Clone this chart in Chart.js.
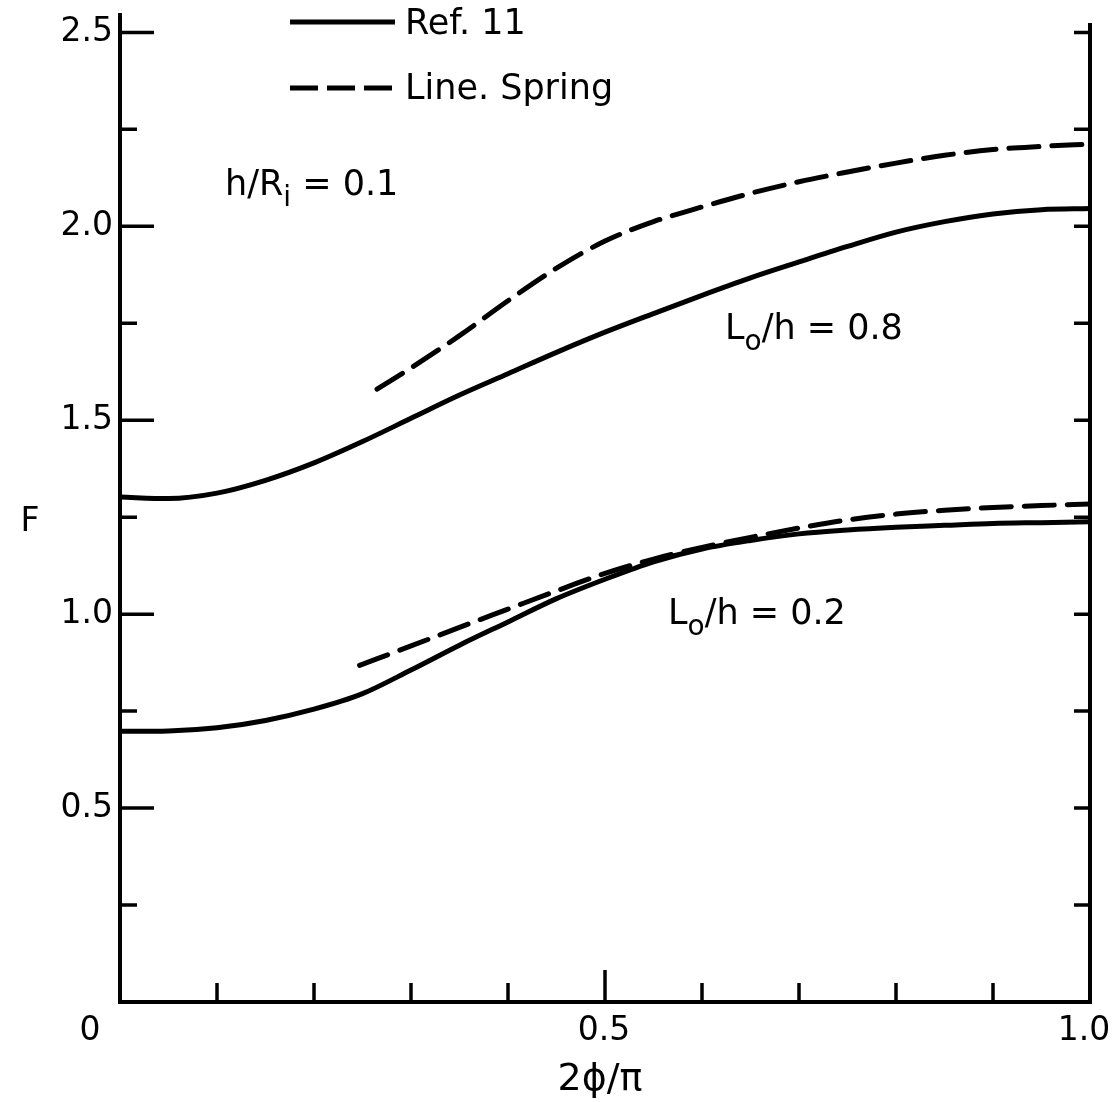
<!DOCTYPE html>
<html>
<head>
<meta charset="utf-8">
<script src="https://cdn.jsdelivr.net/npm/chart.js@4/dist/chart.umd.min.js"></script>
<style>
html,body{margin:0;padding:0;background:#fff;}
#wrap{width:1120px;height:1102px;position:relative;}
</style>
</head>
<body>
<div id="wrap"><canvas id="c"></canvas></div>
<script>
// ---- data ----
const xRef08 = [0, 0.05, 0.1, 0.15, 0.2, 0.25, 0.3, 0.35, 0.4, 0.45, 0.5, 0.55, 0.6, 0.65, 0.7, 0.75, 0.8, 0.85, 0.9, 0.95, 1.0];
const fRef08 = [1.302, 1.298, 1.312, 1.345, 1.39, 1.445, 1.505, 1.565, 1.62, 1.675, 1.727, 1.775, 1.822, 1.867, 1.908, 1.948, 1.985, 2.012, 2.032, 2.043, 2.046];
const xLS08 = [0.265, 0.3, 0.35, 0.4, 0.45, 0.5, 0.55, 0.6, 0.65, 0.7, 0.75, 0.8, 0.85, 0.9, 0.95, 1.0];
const fLS08 = [1.58, 1.635, 1.718, 1.808, 1.892, 1.962, 2.012, 2.05, 2.085, 2.115, 2.14, 2.163, 2.183, 2.198, 2.206, 2.212];
const xRef02 = [0, 0.05, 0.1, 0.15, 0.2, 0.25, 0.3, 0.35, 0.4, 0.45, 0.5, 0.55, 0.6, 0.65, 0.7, 0.75, 0.8, 0.85, 0.9, 0.95, 1.0];
const fRef02 = [0.698, 0.699, 0.707, 0.726, 0.755, 0.795, 0.856, 0.92, 0.98, 1.04, 1.09, 1.135, 1.168, 1.19, 1.207, 1.217, 1.224, 1.229, 1.234, 1.236, 1.238];
const xLS02 = [0.247, 0.3, 0.35, 0.4, 0.45, 0.5, 0.55, 0.6, 0.65, 0.7, 0.75, 0.8, 0.85, 0.9, 0.95, 1.0];
const fLS02 = [0.868, 0.918, 0.966, 1.013, 1.06, 1.105, 1.142, 1.172, 1.198, 1.222, 1.243, 1.258, 1.268, 1.275, 1.28, 1.284];

const xTickLabels = ['0.5', '1.0'];
const yTickLabels = ['0.5', '1.0', '1.5', '2.0', '2.5'];
const legendLabels = ['Ref. 11', 'Line. Spring'];

const FONT = '"DejaVu Sans", sans-serif';
const pts = (xs, ys) => xs.map((x, i) => ({x: x, y: ys[i]}));

const lineStyle = {borderColor: '#000', borderWidth: 5, pointRadius: 0, fill: false, cubicInterpolationMode: 'monotone', borderCapStyle: 'round'};
const DASH = [30, 13];

const framePlugin = {
  id: 'frame',
  afterDraw(chart) {
    const ctx = chart.ctx, xs = chart.scales.x, ys = chart.scales.y, a = chart.chartArea;
    ctx.save();
    ctx.strokeStyle = '#000';
    ctx.lineCap = 'butt';
    // axes
    ctx.lineWidth = 4;
    ctx.beginPath();
    ctx.moveTo(a.left, a.top); ctx.lineTo(a.left, a.bottom); ctx.lineTo(a.right, a.bottom); ctx.lineTo(a.right, a.top + 10);
    ctx.stroke();
    // y ticks (inward) every 0.25
    ctx.lineWidth = 3.5;
    for (let k = 1; k <= 10; k++) {
      const v = k * 0.25, py = ys.getPixelForValue(v);
      const major = (k % 2 === 0);
      ctx.beginPath();
      ctx.moveTo(a.left, py); ctx.lineTo(a.left + (major ? 34 : 17), py);
      ctx.moveTo(a.right, py); ctx.lineTo(a.right - 16, py);
      ctx.stroke();
    }
    // x ticks (inward) every 0.1
    for (let k = 1; k <= 9; k++) {
      const px = xs.getPixelForValue(k / 10);
      ctx.beginPath();
      ctx.moveTo(px, a.bottom); ctx.lineTo(px, a.bottom - (k === 5 ? 32 : 19));
      ctx.stroke();
    }
    // tick labels
    ctx.fillStyle = '#000';
    ctx.textBaseline = 'middle';
    ctx.font = '33px ' + FONT;
    ctx.textAlign = 'right';
    yTickLabels.forEach(t => ctx.fillText(t, a.left - 7, ys.getPixelForValue(parseFloat(t))));
    ctx.textAlign = 'center';
    xTickLabels.forEach(t => {
      const px = xs.getPixelForValue(parseFloat(t));
      ctx.fillText(t, Math.min(px - 1, 1084), a.bottom + 29);
    });
    ctx.fillText('0', 90, a.bottom + 29);
    // axis titles
    ctx.fillText('F', 30, 522);
    ctx.font = '38px ' + FONT;
    ctx.fillText('2\u03D5/\u03C0', 600, 1080);
    // legend
    ctx.textAlign = 'left';
    ctx.lineWidth = 5;
    ctx.beginPath(); ctx.moveTo(290, 22); ctx.lineTo(395, 22); ctx.stroke();
    ctx.setLineDash([28, 9]);
    ctx.beginPath(); ctx.moveTo(290, 88); ctx.lineTo(400, 88); ctx.stroke();
    ctx.setLineDash([]);
    ctx.font = '35px ' + FONT;
    ctx.fillText(legendLabels[0], 405, 25);
    ctx.fillText(legendLabels[1], 405, 90);
    // annotations with subscripts
    function sub(parts, x, y) {
      let cx = x;
      parts.forEach(p => {
        ctx.font = (p.s ? '28px ' : '35px ') + FONT;
        ctx.fillText(p.t, cx, y + (p.s ? 13 : 0));
        cx += ctx.measureText(p.t).width;
      });
    }
    sub([{t: 'h/R'}, {t: 'i', s: 1}, {t: ' = 0.1'}], 225, 186);
    sub([{t: 'L'}, {t: 'o', s: 1}, {t: '/h = 0.8'}], 725, 330);
    sub([{t: 'L'}, {t: 'o', s: 1}, {t: '/h = 0.2'}], 668, 615);
    ctx.restore();
  }
};

new Chart(document.getElementById('c'), {
  type: 'line',
  data: {
    datasets: [
      Object.assign({label: legendLabels[0] + ' L0/h=0.8', data: pts(xRef08, fRef08)}, lineStyle),
      Object.assign({label: legendLabels[1] + ' L0/h=0.8', data: pts(xLS08, fLS08), borderDash: DASH}, lineStyle),
      Object.assign({label: legendLabels[0] + ' L0/h=0.2', data: pts(xRef02, fRef02)}, lineStyle),
      Object.assign({label: legendLabels[1] + ' L0/h=0.2', data: pts(xLS02, fLS02), borderDash: DASH}, lineStyle)
    ]
  },
  options: {
    responsive: true,
    maintainAspectRatio: false,
    animation: false,
    layout: {padding: {top: 13, right: 30, left: 0, bottom: 0}},
    plugins: {legend: {display: false}, tooltip: {enabled: false}},
    scales: {
      x: {
        type: 'linear', min: 0, max: 1,
        grid: {display: false}, border: {display: false},
        ticks: {display: false},
        afterFit: s => { s.height = 100; }
      },
      y: {
        type: 'linear', min: 0, max: 2.55,
        grid: {display: false}, border: {display: false},
        ticks: {display: false},
        afterFit: s => { s.width = 120; }
      }
    }
  },
  plugins: [framePlugin]
});
</script>
</body>
</html>
